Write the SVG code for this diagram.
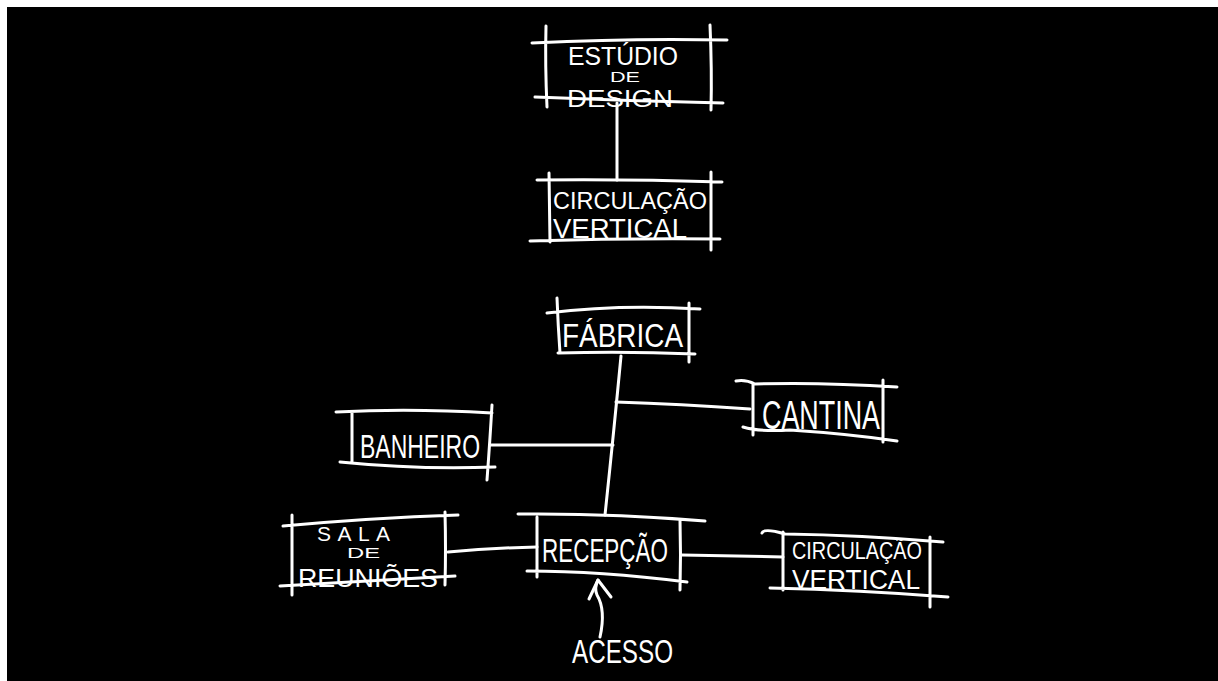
<svg xmlns="http://www.w3.org/2000/svg" width="1218" height="681" viewBox="0 0 1218 681">
<style>
.s{fill:none;stroke:#fff;stroke-width:3;stroke-linecap:round;stroke-linejoin:round}
.t{fill:#fff;font-family:"Liberation Sans","DejaVu Sans",sans-serif}
</style>
<rect x="0" y="0" width="1218" height="681" fill="#fff"/>
<rect x="7" y="7" width="1211" height="674" fill="#000"/>
<g id="connectors" class="s">
<path d="M617,103 L617,180"/>
<path d="M621,356 Q614,430 605,515"/>
<path d="M616,402 Q680,404 750,409"/>
<path d="M490,445 L613,445"/>
<path d="M448,552 Q490,548 537,547"/>
<path d="M682,555 L783,557"/>
<path d="M600,637 Q606,610 597,595 Q594,588 598,580"/>
<path d="M589,599 L598,580 L611,597"/>
</g>
<g id="estudio-design">
<path class="s" d="M532,43 Q630,38 727,40 M546,26 Q545,65 547,107 M710,25 Q712,70 711,110 M535,97 Q630,101 723,103"/>
<text class="t" x="568" y="65" font-size="25" textLength="110" lengthAdjust="spacingAndGlyphs">ESTÚDIO</text>
<text class="t" x="610" y="82" font-size="14" textLength="30" lengthAdjust="spacingAndGlyphs">DE</text>
<text class="t" x="567" y="107" font-size="23" textLength="106" lengthAdjust="spacingAndGlyphs">DESIGN</text>
</g>
<g id="circulacao-vertical-top">
<path class="s" d="M537,180 Q630,179 722,182 M549,173 L550,242 M711,172 L711,250 M530,241 Q625,238 720,239"/>
<text class="t" x="553" y="209" font-size="24" textLength="154" lengthAdjust="spacingAndGlyphs">CIRCULAÇÃO</text>
<text class="t" x="553" y="238" font-size="27" textLength="134" lengthAdjust="spacingAndGlyphs">VERTICAL</text>
</g>
<g id="fabrica">
<path class="s" d="M547,313 Q620,304 700,309 M557,298 Q558,325 560,353 M689,303 L689,362 M558,353 Q625,351 695,354"/>
<text class="t" x="562" y="347" font-size="34" textLength="121" lengthAdjust="spacingAndGlyphs">FÁBRICA</text>
</g>
<g id="cantina">
<path class="s" d="M736,381 Q745,379 755,384 Q820,382 897,387 M753,383 L753,435 M883,380 L883,442 M743,427 Q760,432 790,430 Q850,434 897,441"/>
<text class="t" x="762" y="429" font-size="40" textLength="118" lengthAdjust="spacingAndGlyphs">CANTINA</text>
</g>
<g id="banheiro">
<path class="s" d="M336,412 Q410,408 492,413 M352,413 L352,463 M492,405 Q490,440 487,480 M340,462 Q420,470 495,467"/>
<text class="t" x="360" y="458" font-size="34" textLength="120" lengthAdjust="spacingAndGlyphs">BANHEIRO</text>
</g>
<g id="sala-de-reunioes">
<path class="s" d="M283,526 Q370,518 458,515 M292,515 L292,595 M445,512 Q446,550 445,585 M280,586 Q370,581 455,576"/>
<text class="t" x="317" y="541" font-size="21" textLength="73" lengthAdjust="spacing">SALA</text>
<text class="t" x="347" y="558" font-size="14" textLength="33" lengthAdjust="spacingAndGlyphs">DE</text>
<text class="t" x="298" y="587" font-size="26" textLength="140" lengthAdjust="spacingAndGlyphs">REUNIÕES</text>
</g>
<g id="recepcao">
<path class="s" d="M518,514 Q610,513 705,521 M537,517 L537,577 M680,520 Q681,555 680,590 M527,571 Q600,571 687,582"/>
<text class="t" x="542" y="562" font-size="34" textLength="126" lengthAdjust="spacingAndGlyphs">RECEPÇÃO</text>
</g>
<g id="circulacao-vertical-right">
<path class="s" d="M762,533 Q764,528 785,534 Q860,535 943,542 M783,532 L783,590 M930,537 L930,607 M770,588 Q860,590 948,597"/>
<text class="t" x="792" y="559" font-size="23" textLength="130" lengthAdjust="spacingAndGlyphs">CIRCULAÇÃO</text>
<text class="t" x="792" y="589" font-size="27" textLength="128" lengthAdjust="spacingAndGlyphs">VERTICAL</text>
</g>
<g id="acesso">
<text class="t" x="572" y="663" font-size="34" textLength="101" lengthAdjust="spacingAndGlyphs">ACESSO</text>
</g>
</svg>
